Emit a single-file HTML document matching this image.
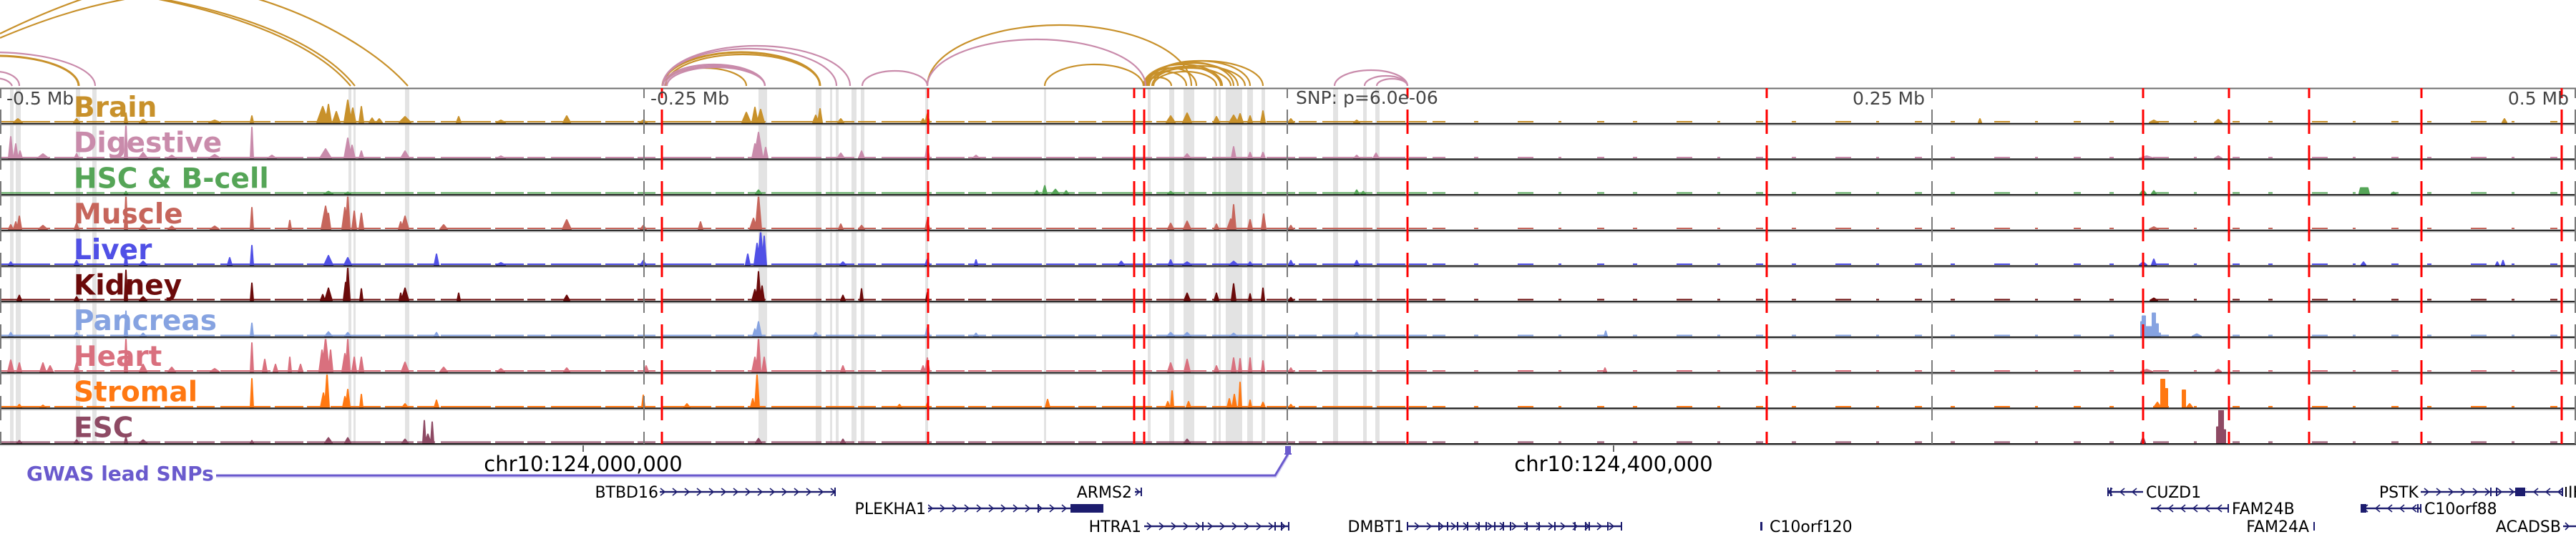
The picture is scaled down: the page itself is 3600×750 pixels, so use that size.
<!DOCTYPE html>
<html><head><meta charset="utf-8"><style>
html,body{margin:0;padding:0;background:#fff;}
svg{display:block;}
text{font-family:"DejaVu Sans","Liberation Sans",sans-serif;}
.pk{stroke-width:2;stroke-linejoin:round;}
.bl{fill:none;stroke-width:2;stroke-dasharray:70 6 40 5 25 8;}
.br{fill:none;stroke-width:2;stroke-dasharray:10 40 6 55 22 35 4 50;}
</style></head><body>
<svg width="3600" height="750" viewBox="0 0 3600 750" xmlns="http://www.w3.org/2000/svg">
<defs>
<pattern id="cr" x="0" y="-6" width="17" height="12" patternUnits="userSpaceOnUse"><path d="M5 1L11 6L5 11" fill="none" stroke="#1c1c6e" stroke-width="1.6"/></pattern>
<pattern id="cl" x="0" y="-6" width="17" height="12" patternUnits="userSpaceOnUse"><path d="M11 1L5 6L11 11" fill="none" stroke="#1c1c6e" stroke-width="1.6"/></pattern>
</defs>
<rect width="3600" height="750" fill="#fff"/>

<!-- arcs -->
<g fill="none" stroke="#c8912b" stroke-width="2.2">
<path d="M0 47C35 30 75 12 120 -3"/>
<path d="M0 53C50 32 110 10 185 -3"/>
<path d="M212 -3C330 20 440 60 490 120"/>
<path d="M218 -3C335 18 447 58 496 120"/>
<path d="M355 -3C450 25 530 75 570 120"/>
<path d="M-120 120A115 42 0 0 1 110 120" stroke-width="3"/>
<path d="M926 120A58.5 25 0 0 1 1043 120"/>
<path d="M926 120A110 47 0 0 1 1146 120" stroke-width="3"/>
<path d="M930 120A108 44 0 0 1 1146 120"/>
<path d="M1296 120A184.5 85 0 0 1 1665 120"/>
<path d="M1460 120A69 30 0 0 1 1598 120"/>
<path d="M1600 120A18.5 12 0 0 1 1637 120"/>
<path d="M1600 120A29 20 0 0 1 1658 120"/>
<path d="M1602 120A35 25 0 0 1 1672 120"/>
<path d="M1598 120A55 30 0 0 1 1708 120"/>
<path d="M1600 120A65 32 0 0 1 1730 120"/>
<path d="M1603 120A72 35 0 0 1 1747 120"/>
<path d="M1598 120A83.5 35 0 0 1 1765 120"/>
<path d="M1610 120A65 28 0 0 1 1740 120"/>
<path d="M1605 120A57.5 25 0 0 1 1720 120"/>
<path d="M1612 120A44 20 0 0 1 1700 120"/>
<path d="M1604 120A60 33 0 0 1 1724 120"/>
<path d="M1606 120A50 27 0 0 1 1706 120"/>
</g>
<g fill="none" stroke="#c98bab" stroke-width="2.2">
<path d="M-153 120A143 47 0 0 1 133 120"/>
<path d="M-37 120A32 20 0 0 1 27 120"/>
<path d="M-25 120A22 15 0 0 1 17 120"/>
<path d="M926 120A71.5 30 0 0 1 1069 120"/>
<path d="M929 120A70 28 0 0 1 1069 120"/>
<path d="M932 120A68.5 26 0 0 1 1069 120"/>
<path d="M926 120A121.5 52 0 0 1 1169 120"/>
<path d="M926 120A131 56 0 0 1 1188 120"/>
<path d="M1205 120A45.5 21 0 0 1 1296 120"/>
<path d="M1296 120A152.5 65 0 0 1 1601 120"/>
<path d="M1865 120A51 22 0 0 1 1967 120"/>
<path d="M1907 120A30 14 0 0 1 1967 120"/>
<path d="M1924 120A21.5 10 0 0 1 1967 120"/>
</g>

<!-- gray bands -->
<g fill="#e3e3e3">
<rect x="14" y="124" width="5" height="496"/><rect x="22" y="124" width="7" height="496"/>
<rect x="106" y="124" width="6" height="496"/><rect x="129" y="124" width="6" height="496"/>
<rect x="487" y="124" width="4" height="496"/><rect x="494" y="124" width="3" height="496"/>
<rect x="566" y="124" width="6" height="496"/>
<rect x="1060" y="124" width="12" height="496"/><rect x="1140" y="124" width="8" height="496"/>
<rect x="1160" y="124" width="3" height="496"/><rect x="1168" y="124" width="4" height="496"/>
<rect x="1190" y="124" width="7" height="496"/><rect x="1203" y="124" width="5" height="496"/>
<rect x="1293" y="124" width="4" height="496"/><rect x="1459" y="124" width="3" height="496"/>
<rect x="1604" y="124" width="4" height="496"/><rect x="1634" y="124" width="7" height="496"/>
<rect x="1654" y="124" width="15" height="496"/><rect x="1696" y="124" width="4" height="496"/>
<rect x="1703" y="124" width="3" height="496"/><rect x="1713" y="124" width="23" height="496"/>
<rect x="1743" y="124" width="8" height="496"/><rect x="1763" y="124" width="5" height="496"/>
<rect x="1863" y="124" width="7" height="496"/><rect x="1905" y="124" width="5" height="496"/>
<rect x="1922" y="124" width="6" height="496"/>
</g>

<!-- track labels -->
<g font-size="39" font-weight="bold">
<text x="103" y="163" fill="#c8912b">Brain</text>
<text x="103" y="212.7" fill="#c98bab">Digestive</text>
<text x="103" y="262.4" fill="#55a557">HSC &amp; B-cell</text>
<text x="103" y="312" fill="#c6655b">Muscle</text>
<text x="103" y="361.8" fill="#5050e6">Liver</text>
<text x="103" y="411.5" fill="#6b0a0a">Kidney</text>
<text x="103" y="461" fill="#86a3e1">Pancreas</text>
<text x="103" y="511" fill="#d9707e">Heart</text>
<text x="103" y="560.6" fill="#ff7812">Stromal</text>
<text x="103" y="610.3" fill="#8e4a64">ESC</text>
</g>

<!-- signals -->
<g transform="translate(0,171)" fill="#c8912b" stroke="#c8912b">
<path d="M0 -1H2010" class="bl"/>
<path d="M2010 -1H3600" class="br"/>
<path class="pk" d="M19 0l6-5l6 5z M103 0l4-5l4 5z M174 0l2-13l2 13z M195 0l5-4l5 4z M292 0l8-3l8 3z M350 0l2-9l2 9z M443 0l8-22l8 22z M455 0l4-25l4 25z M465 0l5-15l5 15z M481 0l5-31l5 31z M489 0l4-20l4 20z M502 0l3-22l3 22z M516 0l4-6l4 6z M526 0l4-5l4 5z M558 0l8-8l8 8z M638 0l3-8l3 8z M694 0l6-3l6 3z M787 0l5-9l5 9z M894 0l5-3l5 3z M1037 0l6-14l6 14z M1051 0l4-21l4 21z M1058 0l5-18l5 18z M1136 0l4-10l4 10z M1143 0l3-19l3 19z M1171 0l4-5l4 5z M1287 0l3-5l3 5z M1293 0l3-12l3 12z M1630 0l6-9l6 9z M1653 0l6-13l6 13z M1696 0l4-8l4 8z M1718 0l6-10l6 10z M1729 0l4-12l4 12z M1744 0l3-9l3 9z M1762 0l3-16l3 16z M1800 0l4-5l4 5z M1892 0l4-3l4 3z M2765 0l2-5l2 5z M3004 0l6-3l6 3z M3095 0l5-4l5 4z M3497 0l3-5l3 5z"/>
</g>
<g transform="translate(0,221)" fill="#c98bab" stroke="#c98bab">
<path d="M0 -1H2010" class="bl"/>
<path d="M2010 -1H3600" class="br"/>
<path class="pk" d="M12 0l3-30l3 30z M19 0l3-20l3 20z M25 0l3-10l3 10z M52 0l8-6l8 6z M104 0l3-6l3 6z M174 0l2-48l2 48z M194 0l6-8l6 8z M234 0l6-4l6 4z M292 0l8-5l8 5z M350 0l2-43l2 43z M374 0l6-4l6 4z M447 0l8-13l8 13z M481 0l5-28l5 28z M488 0l4-18l4 18z M502 0l3-10l3 10z M560 0l6-10l6 10z M694 0l6-3l6 3z M1051 0l4-20l4 20z M1054 0l6-36l6 36z M1067 0l3-15l3 15z M1170 0l5-7l5 7z M1200 0l4-10l4 10z M1293 0l3-17l3 17z M1359 0l5-4l5 4z M1654 0l5-6l5 6z M1721 0l3-16l3 16z M1744 0l3-8l3 8z M1762 0l3-8l3 8z M1892 0l4-4l4 4z M1919 0l4-7l4 7z M2990 0l10-3l10 3z M3095 0l5-3l5 3z"/>
</g>
<g transform="translate(0,270.5)" fill="#55a557" stroke="#55a557">
<path d="M0 -1H2010" class="bl"/>
<path d="M2010 -1H3600" class="br"/>
<path class="pk" d="M174 0l2-3l2 3z M453 0l6-3l6 3z M482 0l4-2l4 2z M1056 0l4-5l4 5z M1446 0l3-4l3 4z M1457 0l3-11l3 11z M1470 0l5-6l5 6z M1487 0l3-4l3 4z M1632 0l4-3l4 3z M1893 0l3-5l3 5z M1902 0l3-3l3 3z M2991 0l4-5l4 5z M3007 0l3-4l3 4z M3297 0l2-8h10l2 8z M3342 0l3-2l3 2z"/>
</g>
<g transform="translate(0,320)" fill="#c6655b" stroke="#c6655b">
<path d="M0 -1H2010" class="bl"/>
<path d="M2010 -1H3600" class="br"/>
<path class="pk" d="M12 0l3-6l3 6z M19 0l3-10l3 10z M24 0l3-18l3 18z M54 0l6-5l6 5z M104 0l3-8l3 8z M174 0l2-48l2 48z M195 0l5-6l5 6z M235 0l5-4l5 4z M294 0l6-4l6 4z M350 0l2-30l2 30z M403 0l2-12l2 12z M449 0l6-32l6 32z M456 0l3-22l3 22z M478 0l4-30l4 30z M483 0l3-47l3 47z M492 0l3-25l3 25z M502 0l3-22l3 22z M557 0l3-10l3 10z M561 0l5-18l5 18z M615 0l5-6l5 6z M786 0l6-13l6 13z M895 0l4-5l4 5z M976 0l3-10l3 10z M1048 0l5-15l5 15z M1056 0l4-47l4 47z M1172 0l3-7l3 7z M1200 0l4-5l4 5z M1293 0l3-13l3 13z M1632 0l4-8l4 8z M1654 0l5-11l5 11z M1697 0l3-7l3 7z M1715 0l5-14l5 14z M1721 0l3-34l3 34z M1744 0l3-13l3 13z M1763 0l3-21l3 21z M1801 0l3-5l3 5z M3004 0l6-3l6 3z"/>
</g>
<g transform="translate(0,370)" fill="#5050e6" stroke="#5050e6">
<path d="M0 -1H2010" class="bl"/>
<path d="M2010 -1H3600" class="br"/>
<path class="pk" d="M12 0l3-4l3 4z M104 0l3-6l3 6z M174 0l2-18l2 18z M195 0l5-5l5 5z M318 0l3-10l3 10z M350 0l2-27l2 27z M453 0l6-13l6 13z M481 0l5-10l5 10z M607 0l3-15l3 15z M694 0l6-3l6 3z M895 0l4-6l4 6z M1042 0l3-15l3 15z M1054 0l4-30l4 30z M1059 0l4-47l4 47z M1065 0l3-40l3 40z M1174 0l4-4l4 4z M1293 0l3-8l3 8z M1362 0l2-7l2 7z M1563 0l4-5l4 5z M1633 0l3-7l3 7z M1653 0l6-4l6 4z M1718 0l6-5l6 5z M1744 0l3-4l3 4z M1801 0l3-6l3 6z M1893 0l3-6l3 6z M2990 0l5-4l5 4z M3007 0l3-8l3 8z M3300 0l3-4l3 4z M3496 0l2-6l2 6z M3488 0l2-4l2 4z"/>
</g>
<g transform="translate(0,419.5)" fill="#6b0a0a" stroke="#6b0a0a">
<path d="M0 -1H2010" class="bl"/>
<path d="M2010 -1H3600" class="br"/>
<path class="pk" d="M24 0l3-7l3 7z M104 0l3-5l3 5z M174 0l2-42l2 42z M195 0l5-5l5 5z M350 0l2-24l2 24z M448 0l3-8l3 8z M454 0l5-17l5 17z M480 0l3-25l3 25z M483 0l3-46l3 46z M503 0l2-16l2 16z M558 0l2-10l2 10z M561 0l5-17l5 17z M639 0l2-10l2 10z M788 0l4-7l4 7z M1051 0l4-15l4 15z M1057 0l3-40l3 40z M1062 0l3-20l3 20z M1175 0l3-7l3 7z M1202 0l2-16l2 16z M1294 0l2-11l2 11z M1655 0l4-10l4 10z M1697 0l3-10l3 10z M1721 0l3-23l3 23z M1745 0l2-9l2 9z M1763 0l2-17l2 17z M1801 0l3-4l3 4z M3005 0l5-3l5 3z"/>
</g>
<g transform="translate(0,469.5)" fill="#86a3e1" stroke="#86a3e1">
<path d="M0 -1H2010" class="bl"/>
<path d="M2010 -1H3600" class="br"/>
<path class="pk" d="M12 0l3-5l3 5z M104 0l3-5l3 5z M174 0l2-35l2 35z M196 0l4-4l4 4z M350 0l2-18l2 18z M454 0l5-6l5 6z M482 0l4-5l4 5z M607 0l3-5l3 5z M1052 0l3-10l3 10z M1056 0l4-20l4 20z M1137 0l3-5l3 5z M1293 0l3-12l3 12z M1361 0l3-4l3 4z M1631 0l5-5l5 5z M1654 0l5-5l5 5z M1719 0l5-4l5 4z M1893 0l3-5l3 5z M2242 0l2-7l2 7z M2992 0V-20H2994V-28H2998V-13H3007V0Z M3008 0V-32H3012V-17H3016V-4H3019V0Z M3064 0l6-3l6 3z"/>
</g>
<g transform="translate(0,519)" fill="#d9707e" stroke="#d9707e">
<path d="M0 -1H2010" class="bl"/>
<path d="M2010 -1H3600" class="br"/>
<path class="pk" d="M11 0l4-16l4 16z M24 0l3-12l3 12z M56 0l4-12l4 12z M66 0l4-8l4 8z M104 0l3-12l3 12z M174 0l2-47l2 47z M195 0l5-10l5 10z M235 0l5-6l5 6z M294 0l6-4l6 4z M350 0l2-40l2 40z M367 0l3-17l3 17z M382 0l3-10l3 10z M403 0l2-20l2 20z M417 0l3-10l3 10z M446 0l4-30l4 30z M450 0l5-47l5 47z M459 0l3-30l3 30z M478 0l4-25l4 25z M483 0l3-45l3 45z M492 0l3-20l3 20z M502 0l3-20l3 20z M561 0l5-13l5 13z M615 0l5-6l5 6z M695 0l5-4l5 4z M788 0l4-5l4 5z M900 0l3-8l3 8z M1051 0l4-20l4 20z M1057 0l3-47l3 47z M1065 0l3-20l3 20z M1175 0l3-8l3 8z M1287 0l3-8l3 8z M1293 0l3-19l3 19z M1632 0l4-12l4 12z M1655 0l4-17l4 17z M1697 0l3-8l3 8z M1721 0l3-19l3 19z M1731 0l2-18l2 18z M1745 0l2-19l2 19z M1763 0l2-15l2 15z M1801 0l3-5l3 5z M2241 0l2-5l2 5z M2992 0l8-3l8 3z M3096 0l4-3l4 3z"/>
</g>
<g transform="translate(0,569)" fill="#ff7812" stroke="#ff7812">
<path d="M0 -1H2010" class="bl"/>
<path d="M2010 -1H3600" class="br"/>
<path class="pk" d="M24 0l3-4l3 4z M56 0l4-3l4 3z M350 0l2-40l2 40z M448 0l4-20l4 20z M454 0l3-47l3 47z M479 0l3-15l3 15z M483 0l3-25l3 25z M503 0l2-18l2 18z M562 0l4-5l4 5z M607 0l3-10l3 10z M897 0l2-17l2 17z M956 0l4-5l4 5z M1049 0l3-12l3 12z M1055 0l3-47l3 47z M1254 0l3-4l3 4z M1294 0l2-6l2 6z M1461 0l3-11l3 11z M1629 0l3-8l3 8z M1636 0l2-23l2 23z M1658 0l3-8l3 8z M1715 0l3-12l3 12z M1722 0l3-18l3 18z M1731 0l2-35l2 35z M1745 0l2-10l2 10z M1762 0l3-7l3 7z M1801 0l3-4l3 4z M3010 0l5-7l5 7z M3020 0V-39H3025V-26H3029V0Z M3050 0V-24H3054V0Z M3056 0l4-5l4 5z"/>
</g>
<g transform="translate(0,618.5)" fill="#8e4a64" stroke="#8e4a64">
<path d="M0 -1H2010" class="bl"/>
<path d="M2010 -1H3600" class="br"/>
<path class="pk" d="M24 0l3-3l3 3z M104 0l3-4l3 4z M174 0l2-8l2 8z M195 0l5-4l5 4z M350 0l2-3l2 3z M454 0l5-7l5 7z M482 0l4-7l4 7z M562 0l4-5l4 5z M591 0l2-31l2 31z M594 0l4-12l4 12z M602 0l2-29l2 29z M1056 0l4-6l4 6z M1175 0l3-5l3 5z M1655 0l4-5l4 5z M2992 0l3-8l3 8z M3098 0V-22H3101V-46H3107V-18H3110V0Z"/>
</g>

<!-- borders & separators -->
<line x1="0" y1="123.5" x2="3600" y2="123.5" stroke="#6e6e6e" stroke-width="2"/>
<g stroke="#151515" stroke-width="2">
<line x1="0" y1="172.7" x2="3600" y2="172.7"/><line x1="0" y1="222.4" x2="3600" y2="222.4"/>
<line x1="0" y1="272.1" x2="3600" y2="272.1"/><line x1="0" y1="321.8" x2="3600" y2="321.8"/>
<line x1="0" y1="371.5" x2="3600" y2="371.5"/><line x1="0" y1="421.2" x2="3600" y2="421.2"/>
<line x1="0" y1="470.9" x2="3600" y2="470.9"/><line x1="0" y1="520.6" x2="3600" y2="520.6"/>
<line x1="0" y1="570.3" x2="3600" y2="570.3"/><line x1="0" y1="620" x2="3600" y2="620"/>
</g>
<g stroke="#c4c4c4" stroke-width="1.5">
<line x1="0" y1="174.6" x2="3600" y2="174.6"/><line x1="0" y1="224.3" x2="3600" y2="224.3"/>
<line x1="0" y1="274" x2="3600" y2="274"/><line x1="0" y1="323.7" x2="3600" y2="323.7"/>
<line x1="0" y1="373.4" x2="3600" y2="373.4"/><line x1="0" y1="423.1" x2="3600" y2="423.1"/>
<line x1="0" y1="472.8" x2="3600" y2="472.8"/><line x1="0" y1="522.5" x2="3600" y2="522.5"/>
<line x1="0" y1="572.2" x2="3600" y2="572.2"/><line x1="0" y1="621.9" x2="3600" y2="621.9"/>
</g>

<!-- dashed lines -->
<g stroke="#7a7a7a" stroke-width="2" stroke-dasharray="34 16" stroke-dashoffset="20">
<line x1="1" y1="123" x2="1" y2="620"/>
<line x1="900" y1="123" x2="900" y2="620"/>
<line x1="1799" y1="123" x2="1799" y2="620"/>
<line x1="2700" y1="123" x2="2700" y2="620"/>
<line x1="3599" y1="123" x2="3599" y2="620"/>
</g>
<g stroke="#ff0000" stroke-width="3" stroke-dasharray="34 16" stroke-dashoffset="20">
<line x1="925" y1="123" x2="925" y2="620"/>
<line x1="1297" y1="123" x2="1297" y2="620"/>
<line x1="1585" y1="123" x2="1585" y2="620"/>
<line x1="1599" y1="123" x2="1599" y2="620"/>
<line x1="1967" y1="123" x2="1967" y2="620"/>
<line x1="2469" y1="123" x2="2469" y2="620"/>
<line x1="2995" y1="123" x2="2995" y2="620"/>
<line x1="3115" y1="123" x2="3115" y2="620"/>
<line x1="3227" y1="123" x2="3227" y2="620"/>
<line x1="3384" y1="123" x2="3384" y2="620"/>
<line x1="3580" y1="123" x2="3580" y2="620"/>
</g>

<!-- tick labels -->
<g fill="#444" font-size="25">
<text x="9" y="146">-0.5 Mb</text>
<text x="909" y="146">-0.25 Mb</text>
<text x="2690" y="146" text-anchor="end">0.25 Mb</text>
<text x="3590" y="146" text-anchor="end">0.5 Mb</text>
<text x="1811" y="145">SNP: p=6.0e-06</text>
</g>

<!-- coordinate axis -->
<g stroke="#333" stroke-width="1.5">
<line x1="815" y1="622" x2="815" y2="631"/>
<line x1="2255" y1="622" x2="2255" y2="631"/>
</g>
<g fill="#000" font-size="29" text-anchor="middle">
<text x="815" y="658">chr10:124,000,000</text>
<text x="2255" y="658">chr10:124,400,000</text>
</g>

<!-- GWAS -->
<text x="37" y="671" font-size="28" font-weight="bold" fill="#6a5acd">GWAS lead SNPs</text>
<polyline points="302,666.5 1783,666.5 1801,636" fill="none" stroke="#d4cff3" stroke-width="2"/>
<polyline points="302,664 1782,664 1800,634" fill="none" stroke="#6a5acd" stroke-width="3"/>
<rect x="1796" y="623" width="8" height="10" fill="#6a5acd"/>
<rect x="1795" y="633" width="10" height="2" fill="#6a5acd"/>

<!-- genes -->
<g font-size="22" fill="#000">
<g transform="translate(0,687)">
<text x="920" y="8" text-anchor="end">BTBD16</text>
<rect x="922" y="-1.2" width="246" height="2.4" fill="#1c1c6e"/>
<rect x="922" y="-6" width="246" height="12" fill="url(#cr)"/>
<rect x="1166" y="-6" width="2" height="12" fill="#1c1c6e"/>
<text x="1582" y="8" text-anchor="end">ARMS2</text>
<rect x="1586" y="-1.2" width="10" height="2.4" fill="#1c1c6e"/>
<path d="M1587 -5L1592 0L1587 5" fill="none" stroke="#1c1c6e" stroke-width="1.6"/>
<rect x="1594" y="-6" width="2" height="12" fill="#1c1c6e"/>
<rect x="2945" y="-1.2" width="50" height="2.4" fill="#1c1c6e"/>
<rect x="2945" y="-6" width="50" height="12" fill="url(#cl)"/>
<rect x="2945" y="-6" width="2" height="12" fill="#1c1c6e"/><rect x="2949" y="-6" width="2" height="12" fill="#1c1c6e"/>
<text x="2999" y="8">CUZD1</text>
<text x="3380" y="8" text-anchor="end">PSTK</text>
<rect x="3383" y="-1.2" width="199" height="2.4" fill="#1c1c6e"/>
<rect x="3383" y="-6" width="130" height="12" fill="url(#cr)"/>
<rect x="3480" y="-6" width="2" height="12" fill="#1c1c6e"/><rect x="3488" y="-6" width="2" height="12" fill="#1c1c6e"/>
<rect x="3515" y="-6" width="14" height="12" fill="#1c1c6e"/>
<rect x="3530" y="-6" width="50" height="12" fill="url(#cl)"/>
<rect x="3580" y="-6" width="2" height="12" fill="#1c1c6e"/>
<rect x="3585" y="-7" width="2" height="14" fill="#000"/>
<text x="3589" y="8">IKZF5</text>
</g>
<g transform="translate(0,710)">
<text x="1294" y="8" text-anchor="end">PLEKHA1</text>
<rect x="1297" y="-1.2" width="245" height="2.4" fill="#1c1c6e"/>
<rect x="1297" y="-6" width="197" height="12" fill="url(#cr)"/>
<rect x="1450" y="-6" width="2" height="12" fill="#1c1c6e"/>
<rect x="1496" y="-6" width="46" height="12" fill="#1c1c6e"/>
<rect x="3006" y="-1.2" width="109" height="2.4" fill="#1c1c6e"/>
<rect x="3006" y="-6" width="109" height="12" fill="url(#cl)"/>
<rect x="3113" y="-6" width="2" height="12" fill="#1c1c6e"/>
<text x="3119" y="8">FAM24B</text>
<rect x="3299" y="-6" width="8" height="12" fill="#1c1c6e"/>
<rect x="3307" y="-1.2" width="76" height="2.4" fill="#1c1c6e"/>
<rect x="3307" y="-6" width="74" height="12" fill="url(#cl)"/>
<rect x="3378" y="-6" width="2" height="12" fill="#1c1c6e"/><rect x="3382" y="-6" width="2" height="12" fill="#1c1c6e"/>
<text x="3388" y="8">C10orf88</text>
</g>
<g transform="translate(0,735)">
<text x="1595" y="8" text-anchor="end">HTRA1</text>
<rect x="1599" y="-1.2" width="203" height="2.4" fill="#1c1c6e"/>
<rect x="1599" y="-6" width="203" height="12" fill="url(#cr)"/>
<rect x="1680" y="-6" width="2" height="12" fill="#1c1c6e"/><rect x="1781" y="-6" width="2" height="12" fill="#1c1c6e"/>
<rect x="1790" y="-6" width="2" height="12" fill="#1c1c6e"/><rect x="1800" y="-6" width="2" height="12" fill="#1c1c6e"/>
<text x="1962" y="8" text-anchor="end">DMBT1</text>
<rect x="1966" y="-1.2" width="301" height="2.4" fill="#1c1c6e"/>
<rect x="1966" y="-6" width="301" height="12" fill="url(#cr)"/>
<g fill="#1c1c6e">
<rect x="1966" y="-6" width="2" height="12"/><rect x="2010" y="-6" width="2" height="12"/><rect x="2022" y="-6" width="2" height="12"/>
<rect x="2036" y="-6" width="2" height="12"/><rect x="2050" y="-6" width="2" height="12"/><rect x="2066" y="-6" width="2" height="12"/>
<rect x="2076" y="-6" width="2" height="12"/><rect x="2088" y="-6" width="2" height="12"/><rect x="2100" y="-6" width="2" height="12"/>
<rect x="2110" y="-6" width="2" height="12"/><rect x="2133" y="-6" width="2" height="12"/><rect x="2150" y="-6" width="2" height="12"/>
<rect x="2172" y="-6" width="2" height="12"/><rect x="2200" y="-6" width="2" height="12"/><rect x="2215" y="-6" width="2" height="12"/>
<rect x="2220" y="-6" width="2" height="12"/><rect x="2246" y="-6" width="2" height="12"/><rect x="2265" y="-6" width="2" height="12"/>
</g>
<rect x="2460" y="-6" width="3" height="12" fill="#1c1c6e"/>
<text x="2473" y="8">C10orf120</text>
<text x="3227" y="8" text-anchor="end">FAM24A</text>
<rect x="3233" y="-6" width="2" height="12" fill="#1c1c6e"/>
<text x="3579" y="8" text-anchor="end">ACADSB</text>
<rect x="3582" y="-1.2" width="18" height="2.4" fill="#1c1c6e"/>
<path d="M3585 -5L3590 0L3585 5" fill="none" stroke="#1c1c6e" stroke-width="1.6"/>
</g>
</g>
</svg>
</body></html>
